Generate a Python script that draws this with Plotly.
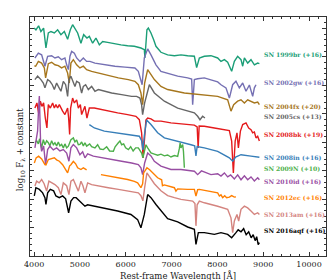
import plotly.graph_objects as go

# ---- data: rest-frame wavelength [A] and log10 F + constant ----
wl_1999br = [4000, 4039, 4098, 4148, 4207, 4258, 4310, 4367, 4441, 4513, 4585, 4659, 4731, 4790, 4840, 4891, 4950, 5022, 5081, 5153,
             5205, 5277, 5349, 5423, 5495, 5604, 5751, 5895, 6041, 6187, 6331, 6405, 6418, 6462, 6493, 6550, 6609, 6659, 6768, 6914,
             7061, 7205, 7351, 7497, 7547, 7606, 7715, 7859, 8006, 8078, 8152, 8224, 8311, 8370, 8442, 8515, 8552, 8589, 8661, 8733,
             8807, 8879, 8916]
fl_1999br = [8.01, 7.95, 8.09, 7.89, 8.01, 7.31, 7.84, 7.89, 7.84, 7.95, 7.78, 7.89, 7.62, 7.95, 8.13, 8.01, 7.84, 7.48, 7.78, 7.66,
             7.72, 7.48, 7.66, 7.42, 7.54, 7.51, 7.46, 7.42, 7.39, 7.37, 7.31, 7.25, 6.96, 7.95, 8.01, 7.84, 7.60, 7.37, 7.16, 7.07,
             7.04, 7.07, 7.04, 7.02, 6.62, 6.96, 7.02, 7.04, 6.96, 6.84, 6.90, 6.81, 6.49, 6.84, 7.02, 6.90, 6.67, 6.96, 6.78, 6.90,
             6.72, 6.78, 6.76]

wl_2002gw = [4017, 4092, 4164, 4236, 4295, 4382, 4454, 4528, 4600, 4672, 4710, 4747, 4782, 4819, 4878, 4928, 5000, 5074, 5146, 5218,
             5327, 5546, 5764, 5982, 6200, 6274, 6331, 6357, 6405, 6478, 6550, 6659, 6768, 6914, 7133, 7351, 7438, 7460, 7497, 7569,
             7715, 7859, 8006, 8078, 8187, 8261, 8333, 8405, 8478, 8552, 8624, 8698, 8770, 8807, 8842]
fl_2002gw = [6.96, 7.13, 7.07, 6.67, 7.02, 7.04, 6.96, 7.00, 6.90, 6.96, 6.72, 6.55, 7.02, 7.19, 7.13, 6.96, 6.84, 6.96, 6.84, 6.84,
             6.78, 6.72, 6.67, 6.64, 6.61, 6.49, 6.20, 6.02, 6.96, 7.28, 7.07, 6.72, 6.49, 6.43, 6.32, 6.26, 6.22, 5.32, 6.20, 6.23,
             6.26, 6.19, 6.12, 6.02, 5.91, 5.55, 6.02, 6.14, 5.91, 6.08, 5.79, 6.01, 5.61, 5.91, 6.02]

wl_2004fx = [4004, 4033, 4092, 4164, 4223, 4251, 4310, 4382, 4454, 4528, 4600, 4672, 4731, 4768, 4803, 4856, 4928, 5000, 5074, 5146,
             5255, 5401, 5620, 5838, 6056, 6200, 6274, 6331, 6368, 6412, 6478, 6624, 6768, 6914, 7279, 7641, 8006, 8224, 8296, 8355,
             8442, 8515, 8589, 8661, 8733, 8807, 8879, 8916]
fl_2004fx = [6.68, 6.67, 6.84, 6.78, 6.61, 6.26, 6.76, 6.81, 6.72, 6.69, 6.61, 6.67, 6.43, 6.08, 6.78, 6.90, 6.72, 6.61, 6.67, 6.55,
             6.49, 6.43, 6.34, 6.26, 6.20, 6.14, 6.02, 5.73, 5.32, 6.08, 6.55, 6.20, 5.96, 5.85, 5.73, 5.67, 5.61, 5.49, 5.09, 5.32,
             5.44, 5.49, 5.38, 5.49, 5.44, 5.38, 5.41, 5.32]

wl_2005cs = [4017, 4076, 4148, 4201, 4236, 4295, 4345, 4397, 4441, 4491, 4528, 4585, 4637, 4688, 4731, 4760, 4803, 4856, 4891, 4928,
             4987, 5037, 5074, 5124, 5183, 5255, 5327, 5401, 5546, 5692, 5910, 6128, 6237, 6309, 6346, 6368, 6412, 6515, 6624, 6842,
             7133, 7351, 7497, 7569, 7620, 7678, 7728]
fl_2005cs = [6.20, 6.32, 6.20, 6.08, 5.91, 6.20, 6.14, 6.02, 5.85, 6.08, 5.96, 5.79, 6.14, 6.02, 5.61, 6.20, 6.32, 6.14, 5.96, 6.14,
             6.08, 5.73, 5.96, 6.02, 5.85, 5.96, 5.79, 5.85, 5.79, 5.73, 5.67, 5.61, 5.61, 5.55, 5.31, 4.97, 5.38, 6.02, 5.73, 5.44,
             5.20, 5.09, 5.03, 4.91, 4.79, 4.91, 4.85]

wl_2008bk = [4017, 4061, 4098, 4136, 4170, 4207, 4244, 4279, 4310, 4354, 4404, 4441, 4476, 4513, 4550, 4585, 4622, 4672, 4731, 4753,
             4775, 4797, 4840, 4878, 4928, 4965, 5009, 5037, 5081, 5109, 5153, 5205, 5314, 5458, 5604, 5823, 6041, 6222, 6296, 6346,
             6379, 6412, 6440, 6478, 6550, 6624, 6768, 6986, 7279, 7497, 7558, 7580, 7602, 7715, 7934, 8152, 8261, 8311, 8348, 8388,
             8427, 8458, 8502, 8552, 8624, 8683, 8733, 8770, 8807, 8842, 8879, 8916]
fl_2008bk = [5.20, 5.38, 5.03, 5.44, 5.26, 5.38, 4.85, 4.50, 5.32, 5.20, 5.38, 5.20, 5.32, 5.20, 5.32, 5.20, 5.09, 4.97, 5.20, 4.85,
             4.27, 5.20, 5.55, 5.38, 5.49, 5.20, 5.32, 4.97, 5.20, 5.26, 4.85, 5.20, 5.20, 5.15, 5.09, 5.03, 4.97, 4.91, 4.79, 4.33,
             3.45, 4.33, 4.78, 4.85, 4.82, 4.74, 4.74, 4.68, 4.62, 4.60, 4.54, 3.80, 4.57, 4.56, 4.50, 4.44, 4.41, 4.04, 2.92, 4.04,
             4.33, 3.80, 4.39, 4.62, 4.68, 4.50, 4.44, 4.33, 4.36, 4.15, 4.21, 4.04]

wl_2008in = [5205, 5314, 5532, 5823, 6113, 6296, 6346, 6374, 6405, 6455, 6550, 6696, 6842, 7133, 7423, 7504, 7532, 7558, 7715, 8006,
             8152, 8261, 8333, 8398, 8515, 8661, 8733, 8916]
fl_2008in = [4.62, 4.50, 4.39, 4.33, 4.27, 4.21, 4.05, 3.73, 4.22, 4.78, 4.62, 4.33, 4.15, 4.04, 3.91, 3.87, 3.52, 3.85, 3.80, 3.68,
             3.56, 3.45, 3.33, 3.48, 3.56, 3.51, 3.51, 3.47]

wl_2009N = [4017, 4055, 4092, 4120, 4164, 4201, 4236, 4273, 4310, 4345, 4382, 4419, 4454, 4491, 4528, 4563, 4600, 4637, 4672, 4710,
            4747, 4775, 4803, 4856, 4891, 4928, 4965, 5000, 5037, 5074, 5109, 5146, 5212, 5255, 5327, 5386, 5441, 5511, 5583, 5648,
            5729, 5768, 5801, 5838, 5873, 5910, 5954, 5997, 6056, 6107, 6161, 6216, 6274, 6313, 6346, 6374, 6401, 6440, 6478, 6550,
            6624, 6696, 6768, 6842, 6914, 6986, 7061, 7133, 7170, 7187, 7205, 7242, 7259, 7270, 7279]
fl_2009N = [3.98, 4.05, 3.94, 4.12, 3.80, 4.09, 3.91, 4.05, 3.98, 3.87, 4.05, 3.91, 3.98, 3.87, 4.01, 3.87, 3.92, 3.80, 3.94, 3.80,
            3.86, 4.01, 4.09, 4.15, 4.01, 4.08, 3.91, 3.92, 4.01, 3.87, 3.98, 3.86, 3.94, 3.84, 3.80, 3.91, 3.76, 3.74, 3.84, 3.69,
            3.68, 3.84, 3.92, 3.98, 4.04, 3.91, 3.94, 3.80, 3.74, 3.84, 3.69, 3.80, 3.80, 3.69, 3.62, 3.45, 3.66, 3.91, 3.80, 3.62,
            3.58, 3.54, 3.58, 3.52, 3.55, 3.48, 3.53, 3.50, 3.78, 3.98, 3.80, 3.92, 3.68, 3.27, 3.10]

wl_2010id = [4017, 4055, 4076, 4098, 4114, 4127, 4142, 4164, 4207, 4251, 4295, 4345, 4419, 4491, 4563, 4637, 4710, 4760, 4803, 4856,
             4928, 5000, 5059, 5109, 5168, 5292, 5474, 5692, 5910, 6128, 6274, 6331, 6368, 6412, 6478, 6550, 6624, 6768, 6986, 7205,
             7497, 7569, 7652, 7859, 8006, 8078, 8152, 8224, 8289, 8370, 8442, 8515, 8589, 8661, 8733, 8807, 8879, 8916]
fl_2010id = [3.80, 4.15, 4.40, 5.20, 5.62, 4.85, 3.92, 3.68, 3.87, 3.21, 3.74, 3.86, 3.73, 3.80, 3.69, 3.74, 3.62, 3.33, 3.80, 3.92,
             3.80, 3.56, 3.66, 3.45, 3.59, 3.51, 3.45, 3.39, 3.33, 3.27, 3.21, 3.10, 2.86, 3.27, 3.62, 3.52, 3.33, 3.16, 3.04, 3.04,
             2.98, 2.86, 2.99, 2.86, 2.89, 2.81, 2.92, 2.78, 2.85, 2.71, 2.85, 2.68, 2.82, 2.68, 2.78, 2.64, 2.75, 2.68]

wl_2012ec = [4004, 4044, 4098, 4164, 4236, 4258, 4310, 4371, 4441, 4491, 4550, 4622, 4694, 4731, 4775, 4803, 4856, 4906, 4950, 5022,
             5074, 5131, 5146, None,
             5458, 5604, 5751, 5895, 6041, 6187, 6259, 6331, 6368, 6390, 6462, 6521, 6624, 6696, 6783, 6801, 6842, 6914, 7061, 7095,
             7133, 7351, 7497, 7532, 7569, 7606, 7787, 8006, 8043, 8078, 8115, 8159, 8202, 8261, 8311, 8370, 8405]
fl_2012ec = [3.27, 3.45, 3.51, 3.41, 3.21, 3.20, 3.39, 3.43, 3.45, 3.38, 3.33, 3.21, 2.98, 2.92, 3.17, 3.21, 3.33, 3.24, 3.10, 3.04,
             3.10, 3.04, 3.03, None,
             2.86, 2.82, 2.77, 2.73, 2.69, 2.62, 2.57, 2.40, 2.54, 2.92, 3.10, 3.03, 2.85, 2.75, 2.68, 2.47, 2.50, 2.46, 2.40, 2.28,
             2.36, 2.34, 2.34, 2.11, 2.33, 2.34, 2.28, 2.22, 2.11, 2.15, 2.05, 2.12, 2.05, 2.07, 2.12, 2.07, 2.08]

wl_2013am = [4017, 4055, 4109, 4164, 4218, 4273, 4323, 4382, 4454, 4528, 4585, 4637, 4710, 4760, 4803, 4856, 4913, 4965, 5022, 5065,
             5109, 5168, 5255, 5401, 5620, 5838, 6056, 6274, 6331, 6374, 6412, 6462, 6510, 6624, 6768, 6914, 7061, 7205, 7460, 7510,
             7532, 7558, 7606, 7715, 8006, 8224, 8296, 8333, 8370, 8427, 8464, 8515, 8589, 8661, 8733, 8807, 8879, 8916]
fl_2013am = [2.46, 2.63, 2.57, 2.69, 2.54, 2.28, 2.63, 2.57, 2.51, 2.40, 2.16, 2.57, 2.47, 2.16, 2.63, 2.69, 2.50, 2.28, 2.63, 2.47,
             2.22, 2.57, 2.51, 2.46, 2.40, 2.34, 2.28, 2.22, 2.12, 1.94, 2.40, 2.92, 2.81, 2.54, 2.29, 2.12, 2.05, 1.99, 1.93, 1.84,
             1.06, 1.80, 1.93, 1.87, 1.75, 1.64, 1.34, 0.82, 1.23, 1.46, 1.23, 1.64, 1.75, 1.69, 1.58, 1.46, 1.52, 1.46]

wl_2016aqf = [4004, 4039, 4114, 4186, 4236, 4258, 4295, 4354, 4426, 4476, 4550, 4622, 4688, 4753, 4803, 4862, 4917, 4987, 5059, 5109,
              5168, 5314, 5532, 5823, 6113, 6259, 6331, 6405, 6478, 6550, 6659, 6768, 6914, 7133, 7351, 7497, 7532, 7584, 7715, 7934,
              8078, 8224, 8311, 8405, 8453, 8515, 8573, 8628, 8683, 8737, 8781, 8824, 8857, 8890, 8916]
fl_2016aqf = [2.11, 2.40, 2.34, 2.22, 2.05, 1.81, 2.22, 2.34, 2.29, 2.11, 2.05, 2.11, 2.01, 1.52, 1.93, 2.05, 2.05, 1.93, 1.81, 1.75,
              1.80, 1.75, 1.69, 1.58, 1.46, 1.28, 0.99, 1.46, 2.16, 2.05, 1.81, 1.58, 1.31, 1.20, 1.02, 0.94, 0.41, 0.82, 0.82, 0.76,
              0.82, 0.76, 0.64, 0.82, 0.92, 0.85, 0.96, 0.75, 0.85, 0.64, 0.75, 0.54, 0.68, 0.40, 0.47]

names = ["SN 1999br (+16)", "SN 2002gw (+16)", "SN 2004fx (+20)", "SN 2005cs (+13)", "SN 2008bk (+19)", "SN 2008in (+16)",
         "SN 2009N (+10)", "SN 2010id (+16)", "SN 2012ec (+16)", "SN 2013am (+16)", "SN 2016aqf (+16)"]
label_y = [7.07, 6.09, 5.26, 4.89, 4.27, 3.45, 3.06, 2.61, 2.05, 1.46, 0.88]
colors = ["#1b9e77", "#7570b3", "#a6761d", "#666666", "#e41a1c", "#377eb8", "#4daf4a", "#984ea3", "#ff7f00", "#d4847f", "#000000"]
wls = [wl_1999br, wl_2002gw, wl_2004fx, wl_2005cs, wl_2008bk, wl_2008in, wl_2009N, wl_2010id, wl_2012ec, wl_2013am, wl_2016aqf]
fls = [fl_1999br, fl_2002gw, fl_2004fx, fl_2005cs, fl_2008bk, fl_2008in, fl_2009N, fl_2010id, fl_2012ec, fl_2013am, fl_2016aqf]
x_ticks = [4000, 5000, 6000, 7000, 8000, 9000, 10000]
label_x = 9020

fig = go.Figure()
for name, x, y, c in zip(names, wls, fls, colors):
    fig.add_trace(go.Scatter(x=x, y=y, mode="lines", name=name, line=dict(color=c, width=1.4), showlegend=False))

for name, ly, c in zip(names, label_y, colors):
    fig.add_annotation(x=label_x, y=ly, text="<b>%s</b>" % name, showarrow=False, xanchor="left", yanchor="middle",
                       xshift=-2, font=dict(family="DejaVu Serif", size=6.1, color=c))

# axis titles as paper-positioned annotations
fig.add_annotation(xref="paper", yref="paper", x=0.5, y=-0.08, yanchor="middle", xanchor="center", showarrow=False,
                   text="Rest-frame Wavelength [Å]", font=dict(family="DejaVu Serif", size=8.5, color="#222222"))
fig.add_annotation(xref="paper", yref="paper", x=-0.032, y=0.445, yanchor="middle", xanchor="center", showarrow=False,
                   textangle=-90, text="log<sub>10</sub> F<sub>λ</sub> + constant",
                   font=dict(family="DejaVu Serif", size=8.5, color="#222222"))

axis_common = dict(showline=True, linecolor="#333333", linewidth=1, mirror="allticks", ticks="inside",
                   tickcolor="#333333", ticklen=4, tickwidth=1, showgrid=False, zeroline=False, automargin=False)

fig.update_xaxes(range=[3910, 10370], tickvals=x_ticks, ticktext=[str(v) for v in x_ticks],
                 minor=dict(ticks="inside", dtick=200, tick0=4000, ticklen=2, tickcolor="#333333", showgrid=False),
                 tickfont=dict(family="DejaVu Serif", size=8, color="#222222"), **axis_common)
fig.update_yaxes(range=[0, 8.4], dtick=1, tick0=0, showticklabels=False,
                 minor=dict(ticks="inside", dtick=0.2, tick0=0, ticklen=2, tickcolor="#333333", showgrid=False),
                 **axis_common)

fig.update_layout(width=336, height=280, margin=dict(l=22, r=18, t=9, b=32), plot_bgcolor="white", paper_bgcolor="white",
                  font=dict(family="DejaVu Serif"))

fig.write_html("out.html")
